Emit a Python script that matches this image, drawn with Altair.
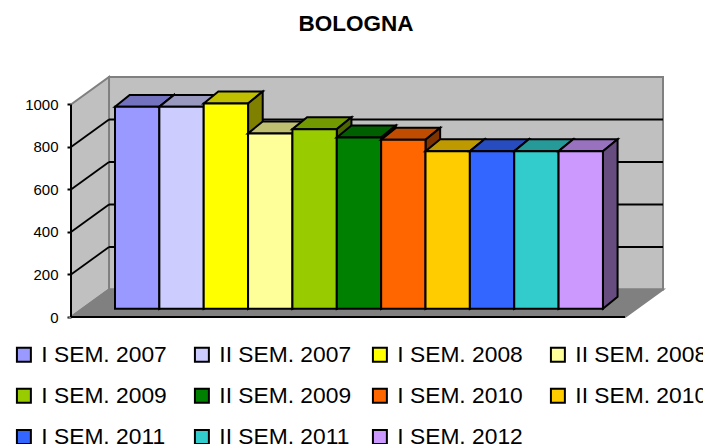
import altair as alt
import pandas as pd

labels = ["I SEM. 2007", "II SEM. 2007", "I SEM. 2008", "II SEM. 2008", "I SEM. 2009", "II SEM. 2009",
          "I SEM. 2010", "II SEM. 2010", "I SEM. 2011", "II SEM. 2011", "I SEM. 2012"]
values = [950, 950, 966, 825, 845, 806, 795, 741, 741, 741, 741]
colors = ["#9999FF", "#CCCCFF", "#FFFF00", "#FFFF99", "#99CC00", "#008000",
          "#FF6600", "#FFCC00", "#3366FF", "#33CCCC", "#CC99FF"]
ticks = [0, 200, 400, 600, 800, 1000]

# depth projection, in axis units
XMIN, XMAX = -0.992, 12.354      # category units across the plot
WALL_DX, WALL_DY = 0.857, 129.4  # floor depth
BAR_DX, BAR_DY = 0.33, 56.0      # bar depth
BASE_DX, BASE_DY = 0.0, 39.0     # bars stand this far up the floor
YMAX = 1000 + WALL_DY
FRONT_R = XMAX - WALL_DX


def shade(hex_color, k):
    r, g, b = (int(hex_color[i:i + 2], 16) for i in (1, 3, 5))
    return "#%02X%02X%02X" % (int(r * k), int(g * k), int(b * k))


X = alt.X("x:Q", scale=alt.Scale(domain=[XMIN, XMAX], nice=False, zero=False), axis=None)
Y_AXIS = alt.Axis(values=ticks, title=None, domain=False, grid=False, tickSize=4, tickWidth=2,
                  tickColor="black", labelFont="Liberation Sans", labelFontSize=15,
                  labelColor="black", labelPadding=9, format="d")
Y = alt.Y("y:Q", scale=alt.Scale(domain=[0, YMAX], nice=False, zero=False), axis=Y_AXIS, stack=None)
Y2 = alt.Y2("y2:Q")
X2 = alt.X2("x2:Q")


def area(rows, fill, stroke="black", width=2):
    df = pd.DataFrame(rows, columns=["x", "y", "y2"])
    return alt.Chart(df).mark_area(fill=fill, stroke=stroke, strokeWidth=width, opacity=1, orient="vertical",
                                   interpolate="linear").encode(x=X, y=Y, y2=Y2)


def seg(x0, y0, x1, y1, color="black", width=1.8):
    df = pd.DataFrame({"x": [x0, x1], "y": [y0, y1]})
    return alt.Chart(df).mark_line(color=color, strokeWidth=width, clip=False).encode(x=X, y=Y)


def top_face(x0, x1, v, dx, dy, fill, stroke="black"):
    return area([[x0, v, v], [x0 + dx, v + dy, v], [x1, v + dy, v], [x1 + dx, v + dy, v + dy]], fill, stroke)


layers = []

# walls and floor
back = pd.DataFrame({"x": [XMIN + WALL_DX], "x2": [XMAX], "y": [WALL_DY], "y2": [YMAX]})
layers.append(alt.Chart(back).mark_rect(fill="#C0C0C0", stroke="#808080", strokeWidth=2).encode(x=X, x2=X2, y=Y, y2=Y2))
layers.append(area([[XMIN, 0, 1000], [XMIN + WALL_DX, WALL_DY, YMAX]], "#C0C0C0", "#808080"))
layers.append(top_face(XMIN, FRONT_R, 0, WALL_DX, WALL_DY, "#808080", "#808080"))

# gridlines
for t in ticks[1:-1]:
    layers.append(seg(XMIN, t, XMIN + WALL_DX, t + WALL_DY))
    layers.append(seg(XMIN + WALL_DX, t + WALL_DY, XMAX, t + WALL_DY))

# front axis lines
layers.append(seg(XMIN, 0, XMIN, 1000, width=2))
layers.append(seg(XMIN, 0, FRONT_R, 0, width=2))

# bars, left to right
for i, (name, v, c) in enumerate(zip(labels, values, colors)):
    x0, x1 = i + BASE_DX, i + 1 + BASE_DX
    base, top = BASE_DY, BASE_DY + v
    layers.append(top_face(x0, x1, top, BAR_DX, BAR_DY, shade(c, 0.75)))
    layers.append(area([[x1, base, top], [x1 + BAR_DX, base + BAR_DY, top + BAR_DY]], shade(c, 0.5)))
    front = pd.DataFrame({"x": [x0], "x2": [x1], "y": [base], "y2": [top], "s": [name]})
    layers.append(
        alt.Chart(front).mark_rect(stroke="black", strokeWidth=2, opacity=1).encode(
            x=X, x2=X2, y=Y, y2=Y2,
            color=alt.Color(
                "s:N",
                scale=alt.Scale(domain=labels, range=colors),
                legend=alt.Legend(
                    title=None, orient="none", legendX=-58.5, legendY=266, columns=4, direction="horizontal",
                    gridAlign="all", columnPadding=17, rowPadding=17.3, symbolType="square", symbolSize=195,
                    symbolStrokeColor="black", symbolStrokeWidth=2, symbolOpacity=1, labelFont="Liberation Sans",
                    labelFontSize=22.8, labelColor="black", labelLimit=300, labelOffset=6,
                ),
            ),
        )
    )

chart = (
    alt.layer(*layers)
    .properties(
        width=592,
        height=240,
        padding={"left": 63, "top": 69, "right": 40, "bottom": 127},
        autosize=alt.AutoSizeParams(type="none"),
        title=alt.TitleParams("BOLOGNA", font="Liberation Sans", fontSize=22.5, fontWeight="bold", color="black",
                              anchor="middle", dx=-11, offset=38),
    )
    .configure_view(stroke=None)
)

chart.save("out.html", embed_options={"renderer": "svg", "actions": False})
